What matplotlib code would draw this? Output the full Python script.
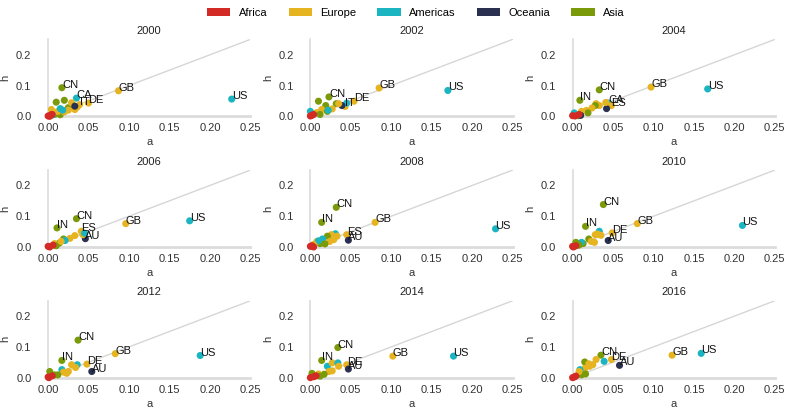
import matplotlib
matplotlib.use("Agg")
from matplotlib import pyplot as plt
from matplotlib.patches import Patch

plt.rcParams['font.family'] = ['Liberation Sans', 'DejaVu Sans']
plt.rcParams['font.size'] = 8

regions = ["Africa", "Europe", "Americas", "Oceania", "Asia"]
codes = ["AF", "EU", "AM", "OC", "AS"]
colors = ["#d42a25", "#e6b420", "#1ab5c1", "#2a3050", "#7a9a0a"]
years = [2000, 2002, 2004, 2006, 2008, 2010, 2012, 2014, 2016]

# 2000
a_2000 = [0.017, 0.035, 0.087, 0.227, 0.050, 0.039, 0.010, 0.020, 0.025, 0.018, 0.012, 0.008, 0.015,
          0.029, 0.036, 0.033, 0.004, 0.012, 0.020, 0.025, 0.006, 0.015, 0.018, 0.005, 0.033,
          0.000, 0.003, 0.005, 0.002]
h_2000 = [0.093, 0.059, 0.083, 0.056, 0.043, 0.038, 0.046, 0.052, 0.028, 0.018, 0.012, 0.006, 0.005,
          0.044, 0.030, 0.022, 0.022, 0.016, 0.014, 0.020, 0.010, 0.025, 0.020, 0.004, 0.033,
          0.001, 0.004, 0.006, 0.000]
reg_2000 = ["AS", "AM", "EU", "AM", "EU", "EU", "AS", "AS", "AS", "AS", "AS", "AS", "AS",
            "EU", "EU", "EU", "EU", "EU", "EU", "EU", "EU", "AM", "AM", "AM", "OC",
            "AF", "AF", "AF", "AF"]
lab_2000 = ["CN", "CA", "GB", "US", "DE", "IT"]

# 2002
a_2002 = [0.023, 0.085, 0.170, 0.054, 0.043, 0.045, 0.039, 0.010, 0.019, 0.032, 0.035, 0.014, 0.027,
          0.021, 0.000, 0.008, 0.012, 0.022, 0.000, 0.004, 0.002]
h_2002 = [0.063, 0.092, 0.084, 0.049, 0.032, 0.043, 0.035, 0.049, 0.035, 0.041, 0.041, 0.022, 0.024,
          0.016, 0.016, 0.012, 0.006, 0.020, 0.001, 0.006, 0.003]
reg_2002 = ["AS", "EU", "AM", "EU", "EU", "AM", "OC", "AS", "AS", "AS", "EU", "EU", "EU",
            "AS", "AM", "EU", "AS", "AM", "AF", "AF", "AF"]
lab_2002 = ["CN", "GB", "US", "DE", "IT"]

# 2004
a_2004 = [0.033, 0.097, 0.167, 0.009, 0.044, 0.048, 0.042, 0.041, 0.029, 0.033, 0.028, 0.024, 0.017,
          0.019, 0.011, 0.002, 0.007, 0.010, 0.000, 0.008, 0.003]
h_2004 = [0.086, 0.095, 0.089, 0.052, 0.043, 0.035, 0.025, 0.045, 0.041, 0.035, 0.035, 0.027, 0.019,
          0.011, 0.016, 0.011, 0.002, 0.003, 0.002, 0.006, 0.001]
reg_2004 = ["AS", "EU", "AM", "AS", "AM", "EU", "OC", "EU", "EU", "EU", "AS", "EU", "EU",
            "AS", "EU", "AM", "AS", "OC", "AF", "AF", "AF"]
lab_2004 = ["CN", "GB", "US", "IN", "CA", "ES"]

# 2006
a_2006 = [0.035, 0.011, 0.096, 0.175, 0.041, 0.046, 0.043, 0.033, 0.027, 0.019, 0.021, 0.014, 0.008,
          0.010, 0.045, 0.016, 0.000, 0.006, 0.002]
h_2006 = [0.092, 0.062, 0.076, 0.085, 0.051, 0.027, 0.040, 0.037, 0.028, 0.026, 0.021, 0.013, 0.011,
          0.004, 0.045, 0.018, 0.002, 0.006, 0.000]
reg_2006 = ["AS", "AS", "EU", "AM", "EU", "OC", "EU", "EU", "EU", "AS", "AM", "AS", "EU",
            "AS", "AM", "EU", "AF", "AF", "AF"]
lab_2006 = ["CN", "IN", "GB", "US", "ES", "AU"]

# 2008
a_2008 = [0.032, 0.014, 0.080, 0.229, 0.045, 0.047, 0.031, 0.026, 0.033, 0.021, 0.015, 0.029, 0.024,
          0.018, 0.012, 0.008, 0.010, 0.004, 0.000, 0.002, 0.004]
h_2008 = [0.129, 0.080, 0.080, 0.059, 0.040, 0.022, 0.043, 0.040, 0.035, 0.035, 0.026, 0.024, 0.018,
          0.010, 0.011, 0.018, 0.020, 0.008, 0.002, 0.004, 0.000]
reg_2008 = ["AS", "AS", "EU", "AM", "EU", "OC", "AM", "EU", "EU", "AS", "AM", "EU", "EU",
            "AS", "AS", "EU", "AM", "EU", "AF", "AF", "AF"]
lab_2008 = ["CN", "IN", "GB", "US", "ES", "AU"]

# 2010
a_2010 = [0.038, 0.016, 0.080, 0.210, 0.049, 0.044, 0.033, 0.028, 0.035, 0.031, 0.020, 0.023, 0.027,
          0.013, 0.011, 0.004, 0.008, 0.000, 0.004, 0.001]
h_2010 = [0.138, 0.067, 0.076, 0.070, 0.046, 0.021, 0.051, 0.040, 0.038, 0.042, 0.026, 0.018, 0.015,
          0.011, 0.015, 0.015, 0.006, 0.002, 0.004, 0.000]
reg_2010 = ["AS", "AS", "EU", "AM", "EU", "OC", "AM", "EU", "EU", "EU", "AS", "EU", "EU",
            "AS", "AM", "AS", "AS", "AF", "AF", "AF"]
lab_2010 = ["CN", "IN", "GB", "US", "DE", "AU"]

# 2012
a_2012 = [0.037, 0.017, 0.083, 0.188, 0.048, 0.054, 0.036, 0.029, 0.034, 0.017, 0.023, 0.019, 0.002,
          0.012, 0.008, 0.025, 0.001, 0.005, 0.000]
h_2012 = [0.122, 0.056, 0.078, 0.072, 0.044, 0.020, 0.042, 0.042, 0.033, 0.026, 0.014, 0.018, 0.020,
          0.009, 0.009, 0.020, 0.000, 0.006, 0.002]
reg_2012 = ["AS", "AS", "EU", "AM", "EU", "OC", "AM", "EU", "EU", "AM", "EU", "EU", "AS",
            "AS", "AS", "EU", "AF", "AF", "AF"]
lab_2012 = ["CN", "IN", "GB", "US", "DE", "AU"]

# 2014
a_2014 = [0.034, 0.014, 0.102, 0.177, 0.045, 0.047, 0.021, 0.027, 0.034, 0.035, 0.023, 0.027, 0.017,
          0.002, 0.010, 0.012, 0.000, 0.004, 0.007]
h_2014 = [0.098, 0.056, 0.070, 0.070, 0.042, 0.028, 0.037, 0.048, 0.048, 0.037, 0.020, 0.022, 0.011,
          0.014, 0.012, 0.005, 0.000, 0.003, 0.006]
reg_2014 = ["AS", "AS", "EU", "AM", "EU", "OC", "AM", "EU", "AM", "EU", "EU", "EU", "AS",
            "AS", "EU", "AS", "AF", "AF", "AF"]
lab_2014 = ["CN", "IN", "GB", "US", "DE", "AU"]

# 2016
a_2016 = [0.035, 0.048, 0.058, 0.123, 0.159, 0.015, 0.029, 0.039, 0.021, 0.015, 0.009, 0.011, 0.025,
          0.008, 0.016, 0.020, 0.000, 0.004, 0.002]
h_2016 = [0.073, 0.059, 0.040, 0.073, 0.079, 0.051, 0.059, 0.053, 0.037, 0.030, 0.026, 0.009, 0.042,
          0.020, 0.012, 0.045, 0.000, 0.005, 0.002]
reg_2016 = ["AS", "EU", "OC", "EU", "AM", "AS", "EU", "AM", "EU", "EU", "AM", "AS", "EU",
            "EU", "AS", "EU", "AF", "AF", "AF"]
lab_2016 = ["CN", "DE", "AU", "GB", "US"]

panels = [
    (a_2000, h_2000, reg_2000, lab_2000),
    (a_2002, h_2002, reg_2002, lab_2002),
    (a_2004, h_2004, reg_2004, lab_2004),
    (a_2006, h_2006, reg_2006, lab_2006),
    (a_2008, h_2008, reg_2008, lab_2008),
    (a_2010, h_2010, reg_2010, lab_2010),
    (a_2012, h_2012, reg_2012, lab_2012),
    (a_2014, h_2014, reg_2014, lab_2014),
    (a_2016, h_2016, reg_2016, lab_2016),
]

col_of = dict(zip(codes, colors))
spine_col = "#dcdcdc"

fig, axes = plt.subplots(3, 3, figsize=(7.89, 4.15), dpi=100)
fig.subplots_adjust(left=0.061, right=0.982, bottom=0.09, top=0.905, wspace=0.297, hspace=0.70)

for ax, year, (a, h, reg, lab) in zip(axes.flat, years, panels):
    ax.plot([0, 0.25], [0, 0.25], color="#d6d6d6", lw=1, zorder=1)
    ax.scatter(a, h, c=[col_of[r] for r in reg], s=26, linewidths=0, zorder=3, clip_on=False)
    for i, name in enumerate(lab):
        ax.text(a[i], h[i], name, fontsize=8, color="#111111", zorder=4)
    ax.set_xlim(0, 0.25)
    ax.set_ylim(0, 0.25)
    ax.set_xticks([0, 0.05, 0.10, 0.15, 0.20, 0.25])
    ax.set_xticklabels(["0.00", "0.05", "0.10", "0.15", "0.20", "0.25"])
    ax.set_yticks([0.0, 0.1, 0.2])
    ax.set_yticklabels(["0.0", "0.1", "0.2"])
    ax.tick_params(axis="both", length=0, colors="#333333", labelsize=8)
    ax.tick_params(axis="x", pad=5)
    ax.tick_params(axis="y", pad=12)
    for s in ["top", "right"]:
        ax.spines[s].set_visible(False)
    ax.spines["left"].set_color(spine_col)
    ax.spines["left"].set_linewidth(1.2)
    ax.spines["bottom"].set_color(spine_col)
    ax.spines["bottom"].set_linewidth(2)
    ax.set_xlabel("a", fontsize=8, color="#333333", labelpad=3)
    ax.set_ylabel("h", fontsize=8, color="#333333", labelpad=4)
    ax.set_title(str(year), fontsize=8, color="#222222", pad=4)

handles = [Patch(facecolor=c, edgecolor="none", label=r) for r, c in zip(regions, colors)]
fig.legend(handles=handles, loc="upper center", bbox_to_anchor=(0.527, 1.005), ncol=5, frameon=False,
           fontsize=8, handlelength=2.1, handleheight=0.75, handletextpad=0.75, columnspacing=1.9)

plt.savefig("out.png", dpi=100)
